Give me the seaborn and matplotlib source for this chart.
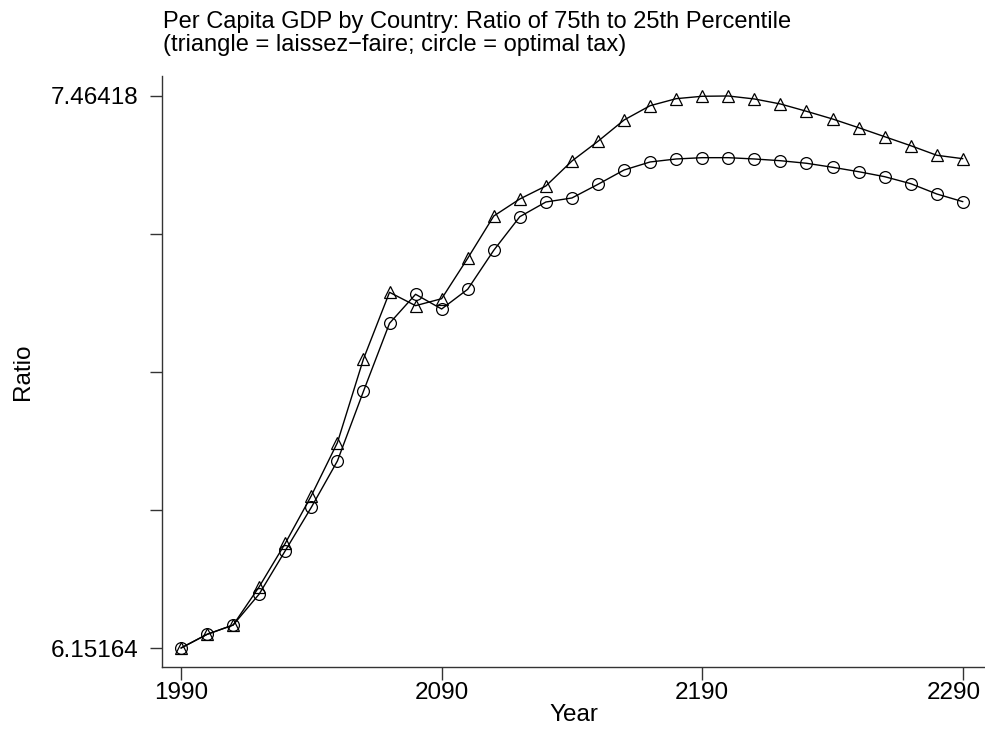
import seaborn as sns
from matplotlib import pyplot as plt
from matplotlib import transforms
import numpy as np
import pandas as pd

years = list(range(1990, 2300, 10))

# triangle = laissez-faire
laissez_faire = [6.15164, 6.1842, 6.2063, 6.2974, 6.4006, 6.5138, 6.6398, 6.8388,
                 6.9974, 6.9656, 6.9822, 7.0783, 7.1788, 7.2193, 7.2502, 7.3096,
                 7.3565, 7.4071, 7.4411, 7.4578, 7.4635, 7.46418, 7.4571, 7.4452,
                 7.4278, 7.4095, 7.3888, 7.3674, 7.3460, 7.3232, 7.3151]

# circle = optimal tax
optimal_tax = [6.15164, 6.1842, 6.2063, 6.2800, 6.3830, 6.4862, 6.5963, 6.7620,
               6.9237, 6.9927, 6.9577, 7.0046, 7.0973, 7.1772, 7.2121, 7.2217,
               7.2542, 7.2882, 7.3073, 7.3144, 7.3175, 7.3175, 7.3144, 7.3103,
               7.3042, 7.2947, 7.2842, 7.2723, 7.2557, 7.2312, 7.2129]

y_min, y_max = 6.15164, 7.46418
x_ticks = [1990, 2090, 2190, 2290]
title_lines = ['Per Capita GDP by Country: Ratio of 75th to 25th Percentile',
               '(triangle = laissez\u2212faire; circle = optimal tax)']

df = pd.DataFrame({
    'Year': years * 2,
    'Ratio': laissez_faire + optimal_tax,
    'Policy': ['laissez-faire'] * len(years) + ['optimal tax'] * len(years),
})

sns.set_style('ticks')
plt.rcParams['font.family'] = ['Liberation Sans', 'DejaVu Sans']
plt.rcParams['text.color'] = 'black'
plt.rcParams['axes.labelcolor'] = 'black'
plt.rcParams['xtick.labelcolor'] = 'black'
plt.rcParams['ytick.labelcolor'] = 'black'

fig = plt.figure(figsize=(9.85, 7.35), dpi=100)
ax = fig.add_axes([162 / 985, 1 - 667 / 735, (985 - 162) / 985, (667 - 76) / 735])

ax = sns.lineplot(data=df, x='Year', y='Ratio', style='Policy',
                  markers={'laissez-faire': '^', 'optimal tax': 'o'},
                  dashes=False, color='black', linewidth=1,
                  markersize=8.5, markerfacecolor='none',
                  markeredgecolor='black', markeredgewidth=0.9,
                  legend=False, ax=ax)

ax.set_xlim(1982.7, 2298.5)
ax.set_ylim(6.1065, 7.5117)
ax.set_xticks(x_ticks)
ax.set_xticklabels([str(t) for t in x_ticks])
yt = np.linspace(y_min, y_max, 5)
ax.set_yticks(yt)
ax.set_yticklabels(['6.15164', '', '', '', '7.46418'])
ax.tick_params(axis='both', labelsize=17.5, length=9, width=1, color='#333333')
ax.tick_params(axis='x', pad=1.5)
ax.tick_params(axis='y', pad=8)
ax.set_xlabel('Year', fontsize=17.5, labelpad=0)
ax.set_ylabel('Ratio', fontsize=17.5, labelpad=12)
sns.despine(ax=ax)
for s in ['left', 'bottom']:
    ax.spines[s].set_linewidth(1)
    ax.spines[s].set_color('#333333')

# keep the last year label inside the figure, as in the original
last = ax.get_xticklabels()[-1]
last.set_transform(last.get_transform() +
                   transforms.ScaledTranslation(-0.09, 0, fig.dpi_scale_trans))

fig.text(163 / 985, 1 - 28 / 735, title_lines[0], ha='left', va='baseline', fontsize=17)
fig.text(163 / 985, 1 - 51 / 735, title_lines[1], ha='left', va='baseline', fontsize=17)

fig.savefig('out.png', dpi=100)
